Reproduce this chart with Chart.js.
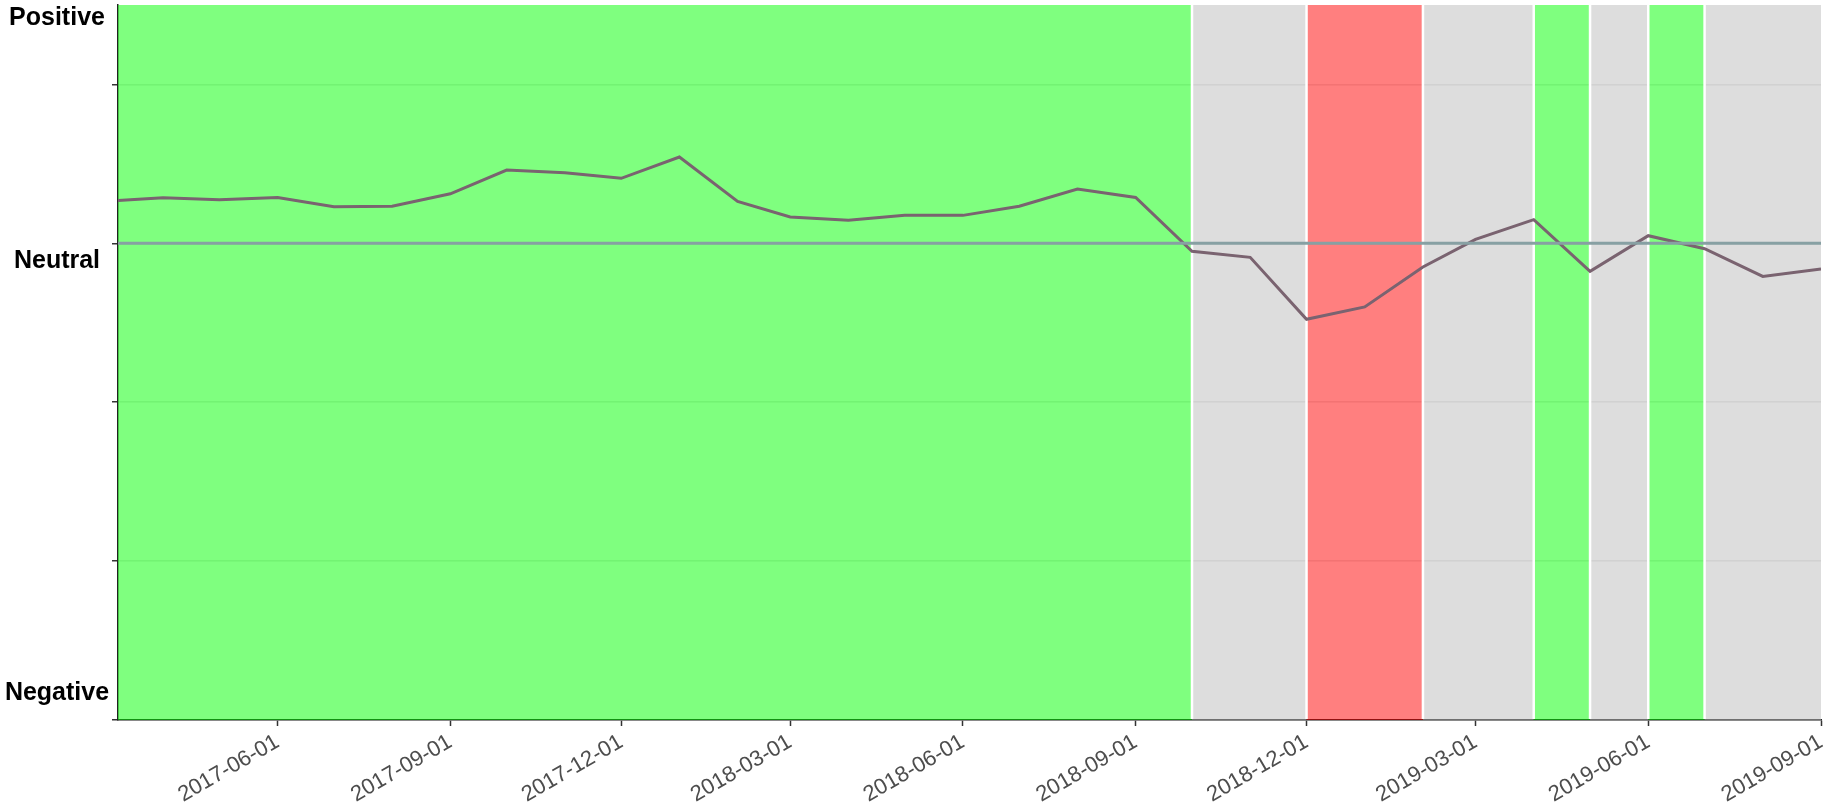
<!DOCTYPE html>
<html>
<head>
<meta charset="utf-8">
<script src="https://cdn.jsdelivr.net/npm/chart.js@4.4.1/dist/chart.umd.min.js"></script>
<style>
  html, body { margin: 0; padding: 0; background: #fff; }
  #wrap { width: 1825px; height: 804px; }
</style>
</head>
<body>
<div id="wrap"><canvas id="sentimentChart"></canvas></div>
<script>
// Monthly sentiment readings
const dates = [
    '2017-03-08', '2017-04-01', '2017-05-01', '2017-06-01', '2017-07-01', '2017-08-01',
    '2017-09-01', '2017-10-01', '2017-11-01', '2017-12-01', '2018-01-01', '2018-02-01',
    '2018-03-01', '2018-04-01', '2018-05-01', '2018-06-01', '2018-07-01', '2018-08-01',
    '2018-09-01', '2018-10-01', '2018-11-01', '2018-12-01', '2019-01-01', '2019-02-01',
    '2019-03-01', '2019-04-01', '2019-05-01', '2019-06-01', '2019-07-01', '2019-08-01',
    '2019-09-01'
];
const sentiment = [
    0.270, 0.287, 0.275, 0.289, 0.231, 0.233,
    0.312, 0.461, 0.444, 0.409, 0.543, 0.264,
    0.166, 0.145, 0.176, 0.176, 0.233, 0.342,
    0.289, -0.050, -0.088, -0.478, -0.400, -0.149,
    0.025, 0.149, -0.176, 0.048, -0.034, -0.208,
    -0.161
];

// Background regimes
const bandStarts = ['2017-03-08', '2018-10-01', '2018-12-01', '2019-02-01', '2019-04-01', '2019-05-01', '2019-06-01', '2019-07-01'];
const bandEnds   = ['2018-10-01', '2018-12-01', '2019-02-01', '2019-04-01', '2019-05-01', '2019-06-01', '2019-07-01', '2019-09-01'];
const bandTones  = ['positive', 'neutral', 'negative', 'neutral', 'positive', 'neutral', 'positive', 'neutral'];

const xTicks = ['2017-06-01', '2017-09-01', '2017-12-01', '2018-03-01', '2018-06-01',
                '2018-09-01', '2018-12-01', '2019-03-01', '2019-06-01', '2019-09-01'];
const yTicks = [-3, -2, -1, 0, 1];
const yLabels = ['Positive', 'Neutral', 'Negative'];

const toneColors = {
    positive: 'rgba(0, 255, 0, 0.5)',
    negative: 'rgba(255, 0, 0, 0.5)',
    neutral: 'rgba(188, 188, 188, 0.5)'
};

function toMs(d) {
    const [y, m, day] = d.split('-').map(Number);
    return Date.UTC(y, m - 1, day);
}

function fmtDate(ms) {
    return new Date(ms).toISOString().slice(0, 10);
}

const xMin = toMs(dates[0]);
const xMax = toMs(dates[dates.length - 1]);

const bandPlugin = {
    id: 'bands',
    beforeDatasetsDraw(chart) {
        const { ctx, chartArea, scales } = chart;
        ctx.save();
        bandStarts.forEach((s, i) => {
            const x0 = scales.x.getPixelForValue(toMs(s));
            const x1 = scales.x.getPixelForValue(toMs(bandEnds[i]));
            ctx.fillStyle = toneColors[bandTones[i]];
            ctx.fillRect(x0, chartArea.top, x1 - x0, chartArea.bottom - chartArea.top);
        });
        // white outlines between regimes
        ctx.strokeStyle = '#ffffff';
        ctx.lineWidth = 2.5;
        bandStarts.slice(1).forEach(s => {
            const x = scales.x.getPixelForValue(toMs(s));
            ctx.beginPath();
            ctx.moveTo(x, chartArea.top);
            ctx.lineTo(x, chartArea.bottom - 1);
            ctx.stroke();
        });
        ctx.restore();
    }
};

const sideLabelPlugin = {
    id: 'sideLabels',
    afterDraw(chart) {
        const { ctx, chartArea, scales } = chart;
        const cx = chartArea.left / 2 - 2;
        ctx.save();
        ctx.fillStyle = '#000';
        ctx.font = 'bold 25px "Liberation Sans", Arial, sans-serif';
        ctx.textAlign = 'center';
        ctx.textBaseline = 'alphabetic';
        ctx.fillText(yLabels[0], cx, chartArea.top + 20);
        ctx.fillText(yLabels[1], cx, scales.y.getPixelForValue(0) + 25);
        ctx.fillText(yLabels[2], cx, chartArea.bottom - 20);
        ctx.restore();
    }
};

const ctx = document.getElementById('sentimentChart').getContext('2d');
new Chart(ctx, {
    type: 'line',
    data: {
        datasets: [
            {
                label: 'neutral',
                data: [{ x: xMin, y: 0 }, { x: xMax, y: 0 }],
                borderColor: '#87a0a3',
                borderWidth: 3,
                pointRadius: 0
            },
            {
                label: 'sentiment',
                data: dates.map((d, i) => ({ x: toMs(d), y: sentiment[i] })),
                borderColor: '#7a6370',
                borderWidth: 3,
                pointRadius: 0,
                tension: 0
            }
        ]
    },
    options: {
        responsive: true,
        maintainAspectRatio: false,
        animation: false,
        layout: { padding: { top: 5, right: 4, left: 0, bottom: 0 } },
        plugins: {
            legend: { display: false },
            tooltip: { enabled: false }
        },
        scales: {
            x: {
                type: 'linear',
                min: xMin,
                max: xMax,
                afterBuildTicks: (scale) => {
                    scale.ticks = xTicks.map(d => ({ value: toMs(d) }));
                },
                afterFit: (scale) => {
                    scale.height = 84;
                    scale.paddingLeft = 0;
                    scale.paddingRight = 0;
                },
                ticks: {
                    autoSkip: false,
                    minRotation: 30,
                    maxRotation: 30,
                    padding: 3,
                    color: '#4d4d4d',
                    font: { family: '"Liberation Sans", Arial, sans-serif', size: 22 },
                    callback: (v) => fmtDate(v)
                },
                grid: {
                    drawOnChartArea: false,
                    tickLength: 6,
                    tickColor: '#333333',
                    tickWidth: 1.5
                },
                border: { display: true, color: '#222222', width: 1.5 }
            },
            y: {
                min: -3,
                max: 1.5,
                afterBuildTicks: (scale) => {
                    scale.ticks = yTicks.map(v => ({ value: v }));
                },
                afterFit: (scale) => {
                    scale.width = 118;
                    scale.paddingTop = 0;
                    scale.paddingBottom = 0;
                },
                ticks: { callback: () => '' },
                grid: {
                    color: '#e6e6e6',
                    lineWidth: 1.5,
                    tickLength: 6,
                    tickColor: '#333333',
                    tickWidth: 1.5
                },
                border: { display: true, color: '#222222', width: 1.5 }
            }
        }
    },
    plugins: [bandPlugin, sideLabelPlugin]
});
</script>
</body>
</html>
